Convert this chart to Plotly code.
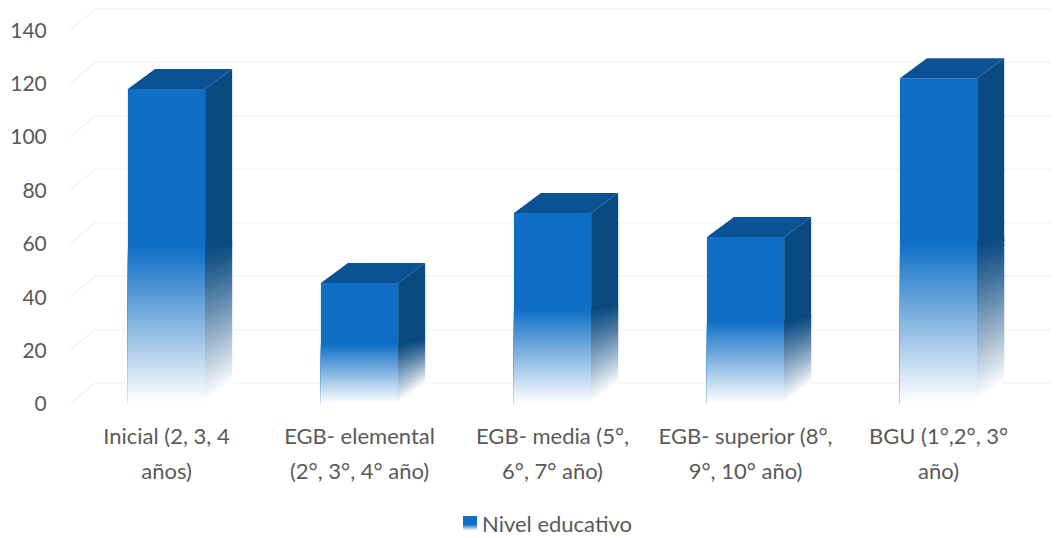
import plotly.graph_objects as go

first_lines = ["Inicial (2, 3, 4", "EGB- elemental", "EGB- media (5°,", "EGB- superior (8°,", "BGU (1°,2°, 3°"]
second_lines = ["años)", "(2°, 3°, 4° año)", "6°, 7° año)", "9°, 10° año)", "año)"]
values = [118, 45.3, 71.5, 62.5, 122]
y_ticks = [0, 20, 40, 60, 80, 100, 120, 140]
series_name = "Nivel educativo"

FRONT = (15, 111, 198)
SIDE = (11, 74, 128)
TOP = "#0B5294"
TEXT = "#595959"
GRID = "#F4F4F4"
FONT = "Lato"

BAR_W = 0.4
DX = 0.14
DY = 7.5
GRID_DX = 0.13
GRID_DY = 7.9
X_MIN, X_MAX = -0.5, 4.624
Y_MAX = 148.3
N = 60
N_SIDE = 34
GRAD_START = 0.5
PAGE = 8            # page margin around the figure
PLOT_L, PLOT_W = 62, 989
PLOT_H = 396
FIG_H = 538


def mix(c, t):
    return "rgb(%d,%d,%d)" % tuple(round(a + (255 - a) * t) for a in c)


def fx(px):
    return (px - PAGE - PLOT_L) / PLOT_W


def fy(px):
    return 1 - (px - PAGE) / PLOT_H


positions = list(range(len(values)))
fig = go.Figure()

# legend entry (its swatch is painted as a gradient below)
fig.add_trace(go.Bar(x=[None], y=[None], name=series_name, showlegend=True, hoverinfo="skip",
                     marker=dict(color="rgba(0,0,0,0)", line_width=0)))

# front faces: tallest first, each lower band painted over the previous one
fig.add_trace(go.Bar(x=positions, y=values, width=BAR_W, name=series_name,
                     marker=dict(color=mix(FRONT, 0), line_width=0), showlegend=False))
for k in range(N):
    f = GRAD_START * (1 - k / N)
    t = k / (N - 1)
    fig.add_trace(go.Bar(x=positions, y=[v * f for v in values], width=BAR_W,
                         marker=dict(color=mix(FRONT, t), line_width=0),
                         showlegend=False, hoverinfo="skip"))


def back_shift(f):
    return DY * (1 - 0.7 * f / GRAD_START)


# side faces, solid upper part
xs, ys = [], []
for i, v in zip(positions, values):
    xr = i + BAR_W / 2
    lo = GRAD_START - 0.02
    xs += [xr, xr + DX, xr + DX, xr, xr, None]
    ys += [v * lo, v * lo + back_shift(lo), v + DY, v, v * lo, None]
fig.add_trace(go.Scatter(x=xs, y=ys, mode="lines", fill="toself", fillcolor=mix(SIDE, 0), line_width=0,
                         showlegend=False, hoverinfo="skip"))

# side faces, fading lower part
for k in range(N_SIDE):
    f = GRAD_START * (1 - k / N_SIDE)
    f2 = max(GRAD_START * (1 - (k + 1.6) / N_SIDE), 0)
    t = (k / (N_SIDE - 1)) ** 1.1
    xs, ys = [], []
    for i, v in zip(positions, values):
        xr = i + BAR_W / 2
        xs += [xr, xr + DX, xr + DX, xr, xr, None]
        ys += [v * f2, v * f2 + back_shift(f2), v * f + back_shift(f), v * f, v * f2, None]
    fig.add_trace(go.Scatter(x=xs, y=ys, mode="lines", fill="toself", fillcolor=mix(SIDE, t), line_width=0,
                             showlegend=False, hoverinfo="skip"))

# top faces
xs, ys = [], []
for i, v in zip(positions, values):
    xl, xr = i - BAR_W / 2, i + BAR_W / 2
    xs += [xl, xr, xr + DX, xl + DX, xl, None]
    ys += [v, v, v + DY, v + DY, v, None]
fig.add_trace(go.Scatter(x=xs, y=ys, mode="lines", fill="toself", fillcolor=TOP, line_width=0,
                         showlegend=False, hoverinfo="skip"))

# carrier for the second row of category labels
fig.add_trace(go.Scatter(x=positions, y=values, xaxis="x2", mode="none", showlegend=False, hoverinfo="skip"))

# 3D-style gridlines behind the bars
shapes = []
for t in y_ticks:
    shapes.append(dict(type="path", xref="x", yref="y", layer="below",
                       path=f"M {X_MIN} {t} L {X_MIN + GRID_DX} {t + GRID_DY} L {X_MAX} {t + GRID_DY}",
                       line=dict(color=GRID, width=1.5)))

# legend swatch with the same fade as the bars
SW_L, SW_R, SW_T, SW_M, SW_B = 463, 477, 516, 525, 531
shapes.append(dict(type="rect", xref="paper", yref="paper", x0=fx(SW_L), x1=fx(SW_R), y0=fy(SW_M), y1=fy(SW_T),
                   fillcolor=mix(FRONT, 0), line_width=0))
for j in range(SW_B - SW_M):
    shapes.append(dict(type="rect", xref="paper", yref="paper", x0=fx(SW_L), x1=fx(SW_R),
                       y0=fy(SW_M + j + 1), y1=fy(SW_M + j),
                       fillcolor=mix(FRONT, (j + 1) / (SW_B - SW_M)), line_width=0))

tick_font = dict(size=22, color=TEXT, family=FONT)
fig.update_layout(
    width=1051, height=FIG_H, autosize=False,
    margin=dict(l=PLOT_L, r=0, t=0, b=FIG_H - PLOT_H),
    paper_bgcolor="white", plot_bgcolor="white",
    barmode="overlay", shapes=shapes,
    font=dict(family=FONT, color=TEXT),
    xaxis=dict(range=[X_MIN, X_MAX], tickmode="array", tickvals=positions, ticktext=first_lines,
               showgrid=False, zeroline=False, showline=False, ticks="outside", ticklen=13,
               tickcolor="rgba(0,0,0,0)", tickfont=tick_font),
    xaxis2=dict(range=[X_MIN, X_MAX], overlaying="x", anchor="y", side="bottom", tickmode="array",
                tickvals=positions, ticktext=second_lines, showgrid=False, zeroline=False, showline=False,
                ticks="outside", ticklen=48, tickcolor="rgba(0,0,0,0)", tickfont=tick_font),
    yaxis=dict(range=[0, Y_MAX], tickmode="array", tickvals=y_ticks, showgrid=False, zeroline=False,
               showline=False, ticks="outside", ticklen=18, tickcolor="rgba(0,0,0,0)",
               tickfont=dict(size=21, color=TEXT, family=FONT)),
    legend=dict(orientation="h", x=fx(442), xanchor="left", y=fy(524), yanchor="middle",
                bgcolor="rgba(0,0,0,0)", font=dict(size=22, color=TEXT, family=FONT), itemwidth=30),
)

fig.write_html("out.html")
